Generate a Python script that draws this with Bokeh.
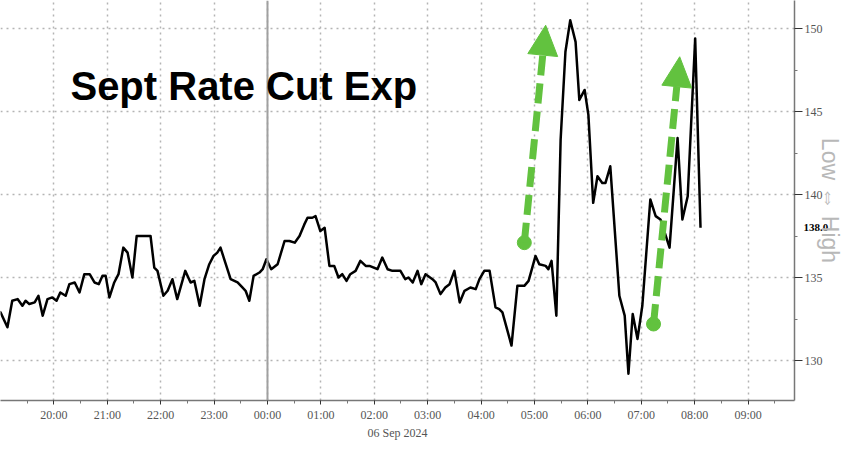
from bokeh.plotting import figure
from bokeh.models import (Arrow, NormalHead, Label, Span, FixedTicker, LinearAxis,
                          NumeralTickFormatter)
from bokeh.embed import file_html
from bokeh.resources import INLINE

# ---- data (hours relative to 00:00, 06 Sep 2024) ----
hours = [-5.15, -5.06, -5.00, -4.87, -4.78, -4.68, -4.59, -4.53, -4.46, -4.36,
         -4.29, -4.21, -4.12, -4.03, -3.95, -3.88, -3.78, -3.71, -3.61, -3.52,
         -3.43, -3.33, -3.24, -3.16, -3.09, -3.03, -2.96, -2.87, -2.79, -2.70,
         -2.62, -2.53,
         -2.45, -2.19, -2.12, -2.06, -1.95, -1.87, -1.78, -1.69, -1.54, -1.44,
         -1.37, -1.27, -1.18, -1.09, -1.01, -0.94, -0.88, -0.79, -0.69, -0.56,
         -0.47, -0.41, -0.34, -0.26, -0.15, -0.09, -0.02,
         0.07, 0.19, 0.32, 0.41, 0.51, 0.60, 0.69, 0.75, 0.84, 0.90,
         0.99, 1.07, 1.16, 1.25, 1.33, 1.40, 1.48, 1.55, 1.65, 1.74,
         1.84, 1.91, 2.06, 2.15, 2.25, 2.34, 2.49, 2.58, 2.64, 2.72,
         2.81, 2.88, 2.96, 3.09, 3.15, 3.24, 3.33, 3.41, 3.50, 3.60,
         3.69, 3.80, 3.90, 3.97, 4.06, 4.16, 4.27, 4.34, 4.40, 4.57,
         4.68, 4.81, 4.89, 5.02, 5.09, 5.21, 5.26, 5.32,
         5.41, 5.49, 5.58, 5.67, 5.77, 5.84, 5.94, 6.01, 6.10, 6.18,
         6.27, 6.33, 6.42, 6.59, 6.69, 6.76, 6.84, 6.93, 7.02, 7.17,
         7.27, 7.36, 7.53, 7.68, 7.77, 7.87, 8.01, 8.11]

rate_cut_bps = [133.2, 133.0, 132.9, 132.0, 133.6, 133.7, 133.3, 133.6, 133.4, 133.5,
                133.9, 132.7, 133.7, 133.8, 133.6, 134.1, 133.9, 134.6, 134.7, 134.1,
                135.2, 135.2, 134.7, 134.6, 135.1, 135.1, 133.8, 134.7, 135.2, 136.8,
                136.5, 135.0,
                137.5, 137.5, 135.6, 135.4, 133.9, 134.2, 134.9, 133.7, 135.4, 134.7,
                134.8, 133.3, 134.9, 135.8, 136.3, 136.5, 136.8, 135.9, 134.9, 134.7,
                134.4, 134.2, 133.6, 135.1, 135.3, 135.5, 136.1,
                135.5, 135.8, 137.2, 137.2, 137.1, 137.5, 138.2, 138.6, 138.6, 138.7,
                137.8, 138.0, 135.7, 135.7, 135.0, 135.2, 134.8, 135.2, 135.4, 136.0,
                135.7, 135.7, 135.5, 136.2, 135.5, 135.4, 135.4, 134.9, 135.0, 134.7,
                135.4, 134.6, 135.2, 134.9, 134.7, 134.0, 134.4, 134.6, 135.4, 133.5,
                134.2, 134.4, 134.3, 134.9, 135.4, 135.4, 133.2, 133.1, 132.9, 130.9,
                134.5, 134.5, 134.8, 136.3, 135.8, 135.7, 135.5, 136.0,
                132.7, 143.3, 148.6, 150.5, 149.2, 145.7, 146.3, 144.8, 139.5, 141.1,
                140.7, 140.7, 141.7, 133.9, 132.7, 129.2, 132.8, 131.3, 133.3, 139.7,
                138.7, 138.5, 136.8, 143.4, 138.5, 139.9, 149.4, 138.0]

tick_hours = [-4, -3, -2, -1, 0, 1, 2, 3, 4, 5, 6, 7, 8, 9]
tick_labels = ["20:00", "21:00", "22:00", "23:00", "00:00", "01:00", "02:00",
               "03:00", "04:00", "05:00", "06:00", "07:00", "08:00", "09:00"]
minor_hours = [-4.5, -3.5, -2.5, -1.5, -0.5, 0.5, 1.5, 2.5, 3.5, 4.5, 5.5, 6.5, 7.5, 8.5, 9.5]
y_ticks = [130, 135, 140, 145, 150]
y_minor = [127.5, 132.5, 137.5, 142.5, 147.5]

# annotation arrows (start hour, start value, end hour, end value)
arrow_start_h = [4.81, 7.23]
arrow_start_v = [137.1, 132.2]
arrow_end_h = [5.21, 7.72]
arrow_end_v = [150.2, 148.3]
last_value = 138.0

GREEN = "#62c23f"
FONT_AX = "Liberation Sans Narrow"

p = figure(frame_width=794, frame_height=400,
           x_range=(-5.0, 9.87), y_range=(127.59, 151.69),
           y_axis_location="right",
           output_backend="svg", toolbar_location=None,
           min_border_left=0, min_border_top=0, min_border_right=38, min_border_bottom=35)
p.outline_line_color = None
p.background_fill_color = "white"
p.border_fill_color = "white"

# grids
for g in (p.xgrid, p.ygrid):
    g.grid_line_color = "#b4b4b4"
    g.grid_line_dash = "2 4"
    g.grid_line_width = 1.5

# x axis
p.xaxis.ticker = FixedTicker(ticks=tick_hours, minor_ticks=minor_hours)
p.xaxis.major_label_overrides = {h: l for h, l in zip(tick_hours, tick_labels)}
p.xaxis.axis_label = "06 Sep 2024"
p.xaxis.axis_label_text_font = FONT_AX
p.xaxis.axis_label_text_font_style = "normal"
p.xaxis.axis_label_text_font_size = "12px"
p.xaxis.axis_label_text_color = "#555555"
p.xaxis.axis_label_standoff = 1
p.xaxis.major_label_text_font = FONT_AX
p.xaxis.major_label_text_font_size = "12px"
p.xaxis.major_label_text_color = "#555555"
p.xaxis.major_label_standoff = 3
p.xaxis.major_tick_out = 4
p.xaxis.major_tick_in = 0
p.xaxis.minor_tick_out = 3
p.xaxis.minor_tick_in = 0

# y axis (right)
p.yaxis.ticker = FixedTicker(ticks=y_ticks, minor_ticks=y_minor)
p.yaxis.major_label_text_font = FONT_AX
p.yaxis.major_label_text_font_size = "12px"
p.yaxis.major_label_text_color = "#555555"
p.yaxis.major_label_standoff = 2
p.yaxis.major_tick_out = 8
p.yaxis.major_tick_in = 0
p.yaxis.minor_tick_out = 3
p.yaxis.minor_tick_in = 0

for ax in (p.xaxis, p.yaxis):
    ax.axis_line_color = "#777777"
    ax.axis_line_width = 1.5
    ax.major_tick_line_color = "#333333"
    ax.minor_tick_line_color = "#777777"

# second right axis: last-value tag + "Low <=> High" caption, pulled back over the first
tag_axis = LinearAxis(ticker=FixedTicker(ticks=[last_value], minor_ticks=[]),
                      formatter=NumeralTickFormatter(format="0.0"))
tag_axis.axis_line_color = None
tag_axis.major_tick_line_color = None
tag_axis.minor_tick_line_color = None
tag_axis.major_tick_out = 0
tag_axis.major_tick_in = 0
tag_axis.minor_tick_out = 0
tag_axis.minor_tick_in = 0
tag_axis.major_label_standoff = -22
tag_axis.major_label_text_font = FONT_AX
tag_axis.major_label_text_font_size = "11px"
tag_axis.major_label_text_font_style = "bold"
tag_axis.major_label_text_color = "black"
tag_axis.axis_label = "Low \u21d4 High"
tag_axis.axis_label_text_font = "Liberation Sans"
tag_axis.axis_label_text_font_style = "normal"
tag_axis.axis_label_text_font_size = "23px"
tag_axis.axis_label_text_color = "#b8b8b8"
tag_axis.axis_label_standoff = -14
p.add_layout(tag_axis, "right")

# midnight separator
p.add_layout(Span(location=0, dimension="height", line_color="#a0a0a0", line_width=2))

# series
p.line(hours, rate_cut_bps, line_color="black", line_width=2.5, line_join="round")

# green arrows
for xs, ys, xe, ye in zip(arrow_start_h, arrow_start_v, arrow_end_h, arrow_end_v):
    p.add_layout(Arrow(end=NormalHead(size=30, fill_color=GREEN, line_color=GREEN, line_width=1),
                       x_start=xs, y_start=ys, x_end=xe, y_end=ye,
                       line_color=GREEN, line_width=7, line_dash="20 8"))
p.scatter(arrow_start_h, arrow_start_v, size=14, color=GREEN)

# title
p.add_layout(Label(x=-3.69, y=146.51, text="Sept Rate Cut Exp",
                   text_font="Liberation Sans", text_font_style="bold",
                   text_font_size="40px", text_color="black",
                   text_baseline="alphabetic", text_align="left"))

open("out.html", "w").write(file_html(p, INLINE))
